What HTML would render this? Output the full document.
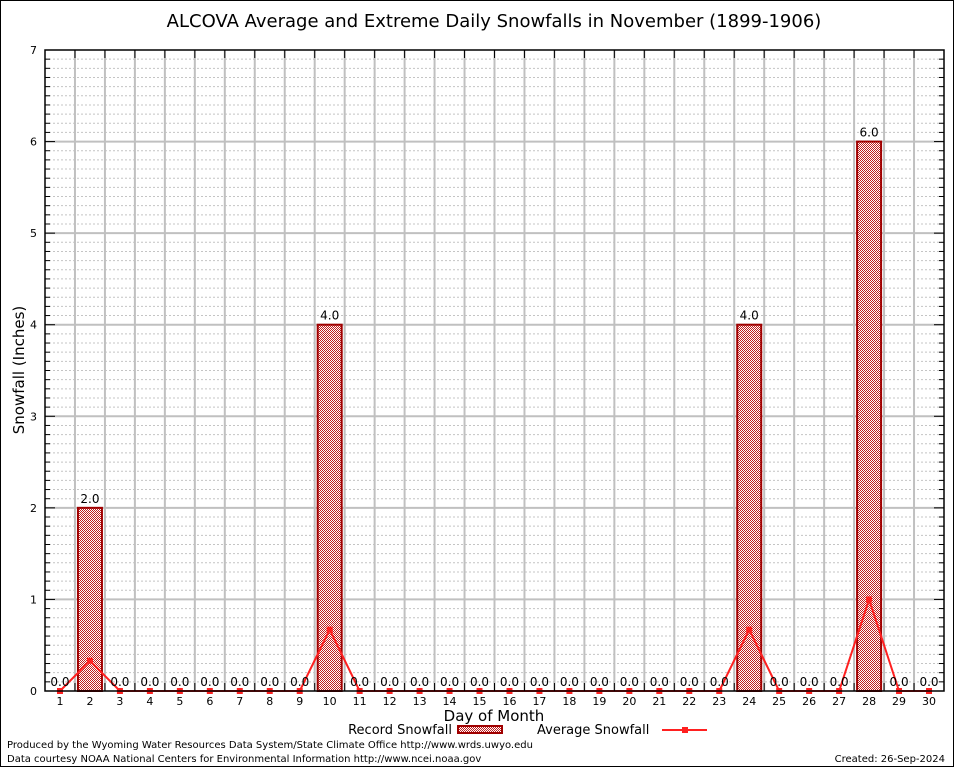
<!DOCTYPE html>
<html><head><meta charset="utf-8"><style>
html,body{margin:0;padding:0;background:#fff;}
body{width:954px;height:768px;overflow:hidden;}
svg text{font-family:"DejaVu Sans","Liberation Sans",sans-serif;}
</style></head><body>
<svg id="chart" width="954" height="768" xmlns="http://www.w3.org/2000/svg">
<defs>
<pattern id="hatch" width="2" height="2" patternUnits="userSpaceOnUse">
<rect width="2" height="2" fill="#fff"/>
<rect width="1" height="1" fill="#c02020"/>
<rect x="1" y="1" width="1" height="1" fill="#c02020"/>
</pattern>
</defs>
<rect x="0.5" y="0.5" width="953" height="766" fill="none" stroke="#000" stroke-width="1"/>
<text x="494" y="27" font-size="18" text-anchor="middle" font-family="Liberation Sans, sans-serif">ALCOVA Average and Extreme Daily Snowfalls in November (1899-1906)</text>
<g id="grid"></g>
<g id="bars"></g>
<g id="line"></g>
<g id="labels"></g>
<g id="axes"></g>
<text x="24" y="370" font-size="15" text-anchor="middle" transform="rotate(-90 24 370)">Snowfall (Inches)</text>
<text x="494" y="721" font-size="15" text-anchor="middle">Day of Month</text>
<g>
<text x="452" y="734" font-size="13" text-anchor="end">Record Snowfall</text>
<rect x="458" y="726" width="44" height="7" fill="url(#hatch)" stroke="#a00000" stroke-width="2"/>
<text x="537" y="734" font-size="13">Average Snowfall</text>
<line x1="662" y1="730" x2="707" y2="730" stroke="#ff2020" stroke-width="2"/>
<rect x="682" y="727" width="6" height="6" fill="#ff2020"/>
</g>
<text x="7" y="748" font-size="10">Produced by the Wyoming Water Resources Data System/State Climate Office http://www.wrds.uwyo.edu</text>
<text x="7" y="762" font-size="10">Data courtesy NOAA National Centers for Environmental Information http://www.ncei.noaa.gov</text>
<text x="945" y="762" font-size="10" text-anchor="end">Created:  26-Sep-2024</text>
</svg>
<script>
const days = [1,2,3,4,5,6,7,8,9,10,11,12,13,14,15,16,17,18,19,20,21,22,23,24,25,26,27,28,29,30];
const recordSnow = [0,2,0,0,0,0,0,0,0,4,0,0,0,0,0,0,0,0,0,0,0,0,0,4,0,0,0,6,0,0];
const avgSnow = [0,0.33,0,0,0,0,0,0,0,0.67,0,0,0,0,0,0,0,0,0,0,0,0,0,0.67,0,0,0,1.0,0,0];
const yTicks = [0,1,2,3,4,5,6,7];

const NS='http://www.w3.org/2000/svg';
const L=45,R=944,T=50,B=691,yMax=7;
const dx=(R-L)/30;
const xs=d=>L+(d-0.5)*dx;
const ys=v=>B-(v/yMax)*(B-T);
function mk(tag,attrs,parent,txt){const e=document.createElementNS(NS,tag);for(const k in attrs)e.setAttribute(k,attrs[k]);if(txt!==undefined)e.textContent=txt;parent.appendChild(e);return e;}
const grid=document.getElementById('grid'),bars=document.getElementById('bars'),line=document.getElementById('line'),labels=document.getElementById('labels'),axes=document.getElementById('axes');

for(let i=1;i<yMax*10;i++){if(i%10===0)continue;const y=ys(i/10);
 const g=mk('line',{x1:L,x2:R,y1:y,y2:y,stroke:'#c4c4c4','stroke-width':1,'stroke-dasharray':'2,2'},grid);
 
 }
for(let i=1;i<30;i++){const x=L+i*dx;
 const g=mk('line',{x1:x,x2:x,y1:T,y2:B,stroke:'#c0c0c0','stroke-width':2},grid);
 
 }
yTicks.forEach(v=>{const y=ys(v);
 if(v>0&&v<yMax){const g=mk('line',{x1:L,x2:R,y1:y,y2:y,stroke:'#c0c0c0','stroke-width':2},grid);
 
 }
 const t=mk('text',{x:L-8,y:y+4,'font-size':11,'text-anchor':'end','font-family':'Liberation Serif, serif'},axes,String(v));
 
 
 mk('line',{x1:L,x2:L+10,y1:y,y2:y,stroke:'#000','stroke-width':1},axes);
 mk('line',{x1:R-10,x2:R,y1:y,y2:y,stroke:'#000','stroke-width':1},axes);
});
for(let i=1;i<yMax*10;i++){if(i%10===0)continue;const y=ys(i/10);
 mk('line',{x1:L,x2:L+5,y1:y,y2:y,stroke:'#000'},axes);mk('line',{x1:R-5,x2:R,y1:y,y2:y,stroke:'#000'},axes);}

days.forEach((d,i)=>{const v=recordSnow[i];const x=xs(d);
 if(v>0){const r=mk('rect',{x:x-12,y:ys(v),width:24,height:B-ys(v),fill:'url(#hatch)',stroke:'#a00000','stroke-width':2},bars);
 
 }
 const t=mk('text',{x:x,y:ys(v)-5,'font-size':12,'text-anchor':'middle'},labels,v.toFixed(1));
 
 
 const tk=mk('text',{x:x,y:B+14,'font-size':11,'text-anchor':'middle','font-family':'Liberation Serif, serif'},axes,String(d));
 
 
 mk('line',{x1:L+i*dx,x2:L+i*dx,y1:B,y2:B-8,stroke:'#000'},axes);
 mk('line',{x1:L+i*dx,x2:L+i*dx,y1:T,y2:T+8,stroke:'#000'},axes);
});
const pl=mk('polyline',{points:days.map((d,i)=>xs(d)+','+ys(avgSnow[i])).join(' '),fill:'none',stroke:'#ff2020','stroke-width':2},line);


days.forEach((d,i)=>{const c=mk('rect',{x:xs(d)-3,y:ys(avgSnow[i])-3,width:6,height:6,fill:'#ff2020'},line);
 
 });
const frame=mk('rect',{x:L,y:T,width:R-L,height:B-T,fill:'none',stroke:'#000','stroke-width':1.5},axes);


</script>
</body></html>
